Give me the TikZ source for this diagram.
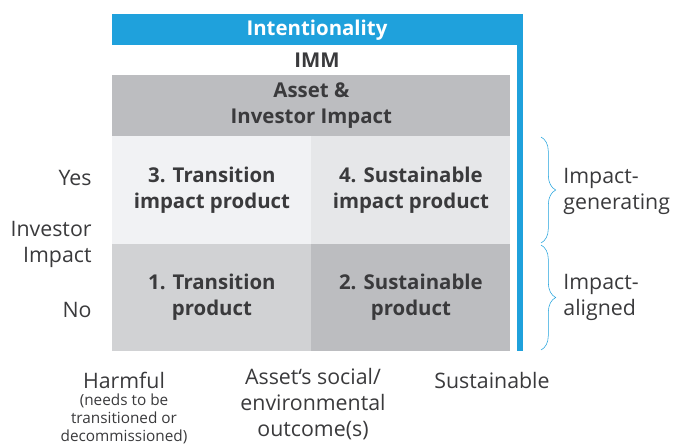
\documentclass[tikz,border=0pt]{standalone}
\usepackage{fontspec}
\setmainfont{Open Sans}
\usepackage{tikz}
\usetikzlibrary{decorations.pathreplacing}

\definecolor{imblue}{HTML}{1FA1DC}
\definecolor{imtext}{HTML}{3A3A3C}
\definecolor{cellA}{HTML}{F1F2F4}
\definecolor{cellB}{HTML}{E6E7E9}
\definecolor{cellC}{HTML}{D1D2D4}
\definecolor{cellD}{HTML}{BCBDC0}

\begin{document}
\begin{tikzpicture}[x=0.75pt, y=-0.75pt, semithick,
        lbl/.style={text=imtext, font=\fontsize{16}{19.5}\selectfont, inner sep=0pt},
        cell/.style={lbl, font=\fontsize{15.3}{19.5}\selectfont\bfseries, align=center,
            minimum width=149.25pt, minimum height=80.6pt, anchor=north west},
        small/.style={text=imtext, font=\fontsize{11.5}{13.5}\selectfont, align=center, inner sep=0pt},
        brace/.style={draw=imblue, thin, decorate, decoration={brace, amplitude=11pt}}]
    \useasboundingbox (0,0) rectangle (673,443);

    % frame
    \fill[imblue] (112,14) rectangle (523,45);
    \fill[imblue] (517,14) rectangle (523,351);
    \node[lbl, text=white, font=\fontsize{15.3}{19.5}\selectfont\bfseries] (intent) at (317,30) {Intentionality};
    \node[lbl, font=\fontsize{15.3}{19.5}\selectfont\bfseries] (imm) at (317,60) {IMM};

    % matrix
    \node[cell, fill=cellD, minimum width=298.5pt, minimum height=45.75pt] (head) at (112,75) {Asset \&\\Investor Impact};
    \node[cell, fill=cellA] (c3) at (112,136) {3. Transition\\impact product};
    \node[cell, fill=cellB] (c4) at (311,136) {4. Sustainable\\impact product};
    \node[cell, fill=cellC] (c1) at (112,243.5) {1. Transition\\product};
    \node[cell, fill=cellD] (c2) at (311,243.5) {2. Sustainable\\product};

    % left axis
    \node[lbl, anchor=east] (yes) at (92,178) {Yes};
    \node[lbl, anchor=east, align=right] (inv) at (92,244) {Investor\\Impact};
    \node[lbl, anchor=east] (no) at (92,310) {No};

    % braces
    \draw[brace] (541,137) -- (541,243);
    \draw[brace] (541,245) -- (541,350);
    \node[lbl, anchor=west, align=left] (gen) at (563,191) {Impact-\\generating};
    \node[lbl, anchor=west, align=left] (ali) at (563,297) {Impact-\\aligned};

    % bottom axis
    \node[lbl] (harm) at (124,380) {Harmful};
    \node[small, anchor=north] (harmsub) at (124,393) {(needs to be\\transitioned or\\decommissioned)};
    \node[lbl, align=center, anchor=north] (outc) at (313,368) {Asset‘s social/\\environmental\\outcome(s)};
    \node[lbl] (sust) at (492,380) {Sustainable};
\end{tikzpicture}
\end{document}
